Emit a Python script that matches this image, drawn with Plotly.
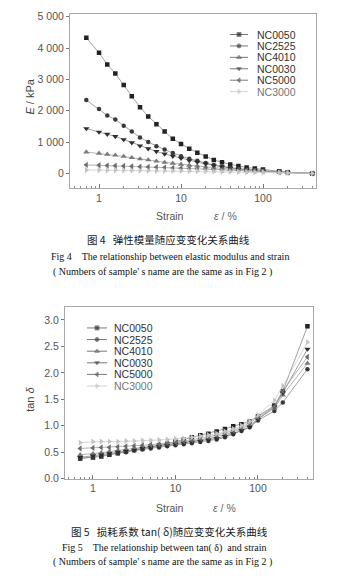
import plotly.graph_objects as go

# ---- data ----------------------------------------------------------------
series_names = ["NC0050", "NC2525", "NC4010", "NC0030", "NC5000", "NC3000"]

strain = [0.7, 1.0, 1.26, 1.58, 2.0, 2.51, 3.16, 3.98, 5.01, 6.31, 7.94, 10.0,
          12.6, 15.8, 20.0, 25.1, 31.6, 39.8, 50.1, 63.1, 79.4, 100.0, 158.0,
          200.0, 398.0]

# elastic modulus E / kPa
E_NC0050 = [4330, 3850, 3480, 3190, 2820, 2460, 2115, 1820, 1570, 1340, 1105, 937,
            790, 663, 540, 430, 355, 285, 235, 190, 155, 125, 65, 35, 0]
E_NC2525 = [2340, 2060, 1850, 1720, 1520, 1340, 1150, 1000, 870, 760, 650, 550,
            470, 400, 330, 270, 220, 180, 150, 120, 100, 80, 50, 30, 0]
E_NC4010 = [680, 640, 610, 580, 540, 500, 460, 430, 390, 350, 320, 290,
            260, 230, 200, 180, 160, 140, 120, 100, 85, 70, 45, 25, 0]
E_NC0030 = [1430, 1320, 1250, 1180, 1080, 980, 880, 790, 700, 620, 550, 480,
            410, 360, 300, 250, 210, 170, 140, 115, 95, 75, 45, 25, 0]
E_NC5000 = [270, 260, 250, 245, 235, 225, 215, 205, 195, 185, 175, 165,
            155, 145, 135, 125, 115, 105, 95, 85, 75, 65, 40, 25, 0]
E_NC3000 = [110, 105, 100, 100, 95, 95, 90, 90, 85, 85, 80, 80,
            75, 75, 70, 65, 60, 55, 50, 45, 40, 35, 25, 15, 0]

# loss factor tan(delta)
T_NC0050 = [0.38, 0.40, 0.42, 0.45, 0.48, 0.51, 0.54, 0.57, 0.60, 0.63, 0.66, 0.70,
            0.74, 0.78, 0.82, 0.85, 0.89, 0.94, 0.99, 1.03, 1.08, 1.18, 1.38, 1.65, 2.88]
T_NC2525 = [0.38, 0.41, 0.43, 0.45, 0.48, 0.50, 0.53, 0.55, 0.57, 0.59, 0.61, 0.63,
            0.65, 0.67, 0.69, 0.71, 0.74, 0.78, 0.84, 0.90, 0.97, 1.10, 1.28, 1.44, 2.07]
T_NC4010 = [0.45, 0.47, 0.49, 0.51, 0.53, 0.55, 0.57, 0.59, 0.61, 0.63, 0.65, 0.67,
            0.69, 0.71, 0.73, 0.76, 0.79, 0.83, 0.88, 0.94, 1.01, 1.13, 1.33, 1.58, 2.18]
T_NC0030 = [0.40, 0.43, 0.45, 0.47, 0.50, 0.52, 0.54, 0.57, 0.59, 0.61, 0.63, 0.65,
            0.67, 0.69, 0.71, 0.73, 0.76, 0.80, 0.85, 0.91, 0.98, 1.12, 1.36, 1.62, 2.45]
T_NC5000 = [0.57, 0.58, 0.59, 0.59, 0.60, 0.61, 0.62, 0.63, 0.64, 0.65, 0.67, 0.69,
            0.71, 0.73, 0.76, 0.79, 0.82, 0.86, 0.91, 0.97, 1.05, 1.16, 1.36, 1.66, 2.30]
T_NC3000 = [0.68, 0.70, 0.70, 0.70, 0.70, 0.71, 0.71, 0.72, 0.72, 0.73, 0.74, 0.75,
            0.76, 0.78, 0.80, 0.82, 0.85, 0.89, 0.94, 1.00, 1.08, 1.20, 1.48, 1.75, 2.58]

E_series = [E_NC0050, E_NC2525, E_NC4010, E_NC0030, E_NC5000, E_NC3000]
T_series = [T_NC0050, T_NC2525, T_NC4010, T_NC0030, T_NC5000, T_NC3000]

x_tickvals = [1, 10, 100]
x_ticktext = ["1", "10", "100"]
E_tickvals = [0, 1000, 2000, 3000, 4000, 5000]
E_ticktext = ["0", "1 000", "2 000", "3 000", "4 000", "5 000"]
T_tickvals = [0.0, 0.5, 1.0, 1.5, 2.0, 2.5, 3.0]
T_ticktext = ["0.0", "0.5", "1.0", "1.5", "2.0", "2.5", "3.0"]

# ---- styling -------------------------------------------------------------
W, H = 337, 587
symbols = ["square", "circle", "triangle-up", "triangle-down", "triangle-left", "triangle-right"]
mcolors = ["#222222", "#3a3a3a", "#7a7a7a", "#2e2e2e", "#6a6a6a", "#c4c4c4"]
lcolors = ["#8a8a8a", "#8a8a8a", "#a0a0a0", "#8a8a8a", "#a0a0a0", "#cccccc"]
msizes = [4.5, 4.5, 5.5, 5.5, 5.5, 5.5]

# plot areas in pixels (left, right, top, bottom)
P1 = (70, 316, 11, 188)
P2 = (65, 313, 309, 483)


def xdom(p):
    return [p[0] / W, p[1] / W]


def ydom(p):
    return [1 - p[3] / H, 1 - p[2] / H]


def px(x):
    return x / W


def py(y):
    return 1 - y / H


fig = go.Figure()

for i, name in enumerate(series_names):
    fig.add_trace(go.Scatter(
        x=strain, y=E_series[i], mode="lines+markers", name=name,
        xaxis="x", yaxis="y", showlegend=False,
        line=dict(color=lcolors[i], width=0.8),
        marker=dict(symbol=symbols[i], size=msizes[i], color=mcolors[i]),
    ))
    fig.add_trace(go.Scatter(
        x=strain, y=T_series[i], mode="lines+markers", name=name,
        xaxis="x2", yaxis="y2", showlegend=False,
        line=dict(color=lcolors[i], width=0.8),
        marker=dict(symbol=symbols[i], size=msizes[i], color=mcolors[i]),
    ))

# hand-built compact legends (symbol x-span, text x, first row y, row step) in pixels
legend_specs = [
    ("x3", "y3", (230, 248), 255, 32.0, 11.6),
    ("x4", "y4", (87, 107), 112, 330.0, 11.8),
]
annotations = []
for xr, yr, (sx0, sx1), tx, y0, dy in legend_specs:
    for i, name in enumerate(series_names):
        yy = y0 + dy * i
        fig.add_trace(go.Scatter(
            x=[sx0, (sx0 + sx1) / 2, sx1], y=[yy, yy, yy], mode="lines+markers",
            xaxis=xr, yaxis=yr, showlegend=False, hoverinfo="skip",
            line=dict(color="#555555" if i < 5 else "#c8c8c8", width=0.8),
            marker=dict(symbol=symbols[i], size=[0, 4, 0], color=mcolors[i]),
        ))
        annotations.append(dict(
            x=tx, y=yy, xref=xr, yref=yr, text=name, showarrow=False,
            xanchor="left", yanchor="middle",
            font=dict(family="Liberation Sans, Arial", size=10.5,
                      color="#333333" if i < 5 else "#777777"),
        ))

axis_common = dict(showline=True, mirror=True, linecolor="#a8a8a8", linewidth=1,
                   showgrid=False, zeroline=False,
                   tickfont=dict(family="Liberation Sans, Arial", size=10.5, color="#555555"))

minor_vals = [m * 10 ** e for e in (-1, 0, 1, 2) for m in range(2, 10)]

xlog = dict(type="log", tickmode="array", tickvals=x_tickvals, ticktext=x_ticktext,
            ticks="inside", ticklen=4, tickcolor="#777777",
            minor=dict(tickvals=minor_vals, ticks="inside", ticklen=2, tickcolor="#888888"))

fig.update_layout(
    width=W, height=H, margin=dict(l=0, r=0, t=0, b=0),
    paper_bgcolor="white", plot_bgcolor="rgba(0,0,0,0)",
    xaxis=dict(domain=xdom(P1), range=[-0.354, 2.646], anchor="y", **xlog, **axis_common),
    yaxis=dict(domain=ydom(P1), range=[-470, 5095], anchor="x", tickmode="array",
               tickvals=E_tickvals, ticktext=E_ticktext, ticks="outside", ticklen=3,
               tickcolor="#777777", **axis_common),
    xaxis2=dict(domain=xdom(P2), range=[-0.339, 2.667], anchor="y2", **xlog, **axis_common),
    yaxis2=dict(domain=ydom(P2), range=[0, 3.24], anchor="x2", tickmode="array",
                tickvals=T_tickvals, ticktext=T_ticktext, ticks="outside", ticklen=3,
                tickcolor="#777777", **axis_common),
    xaxis3=dict(domain=xdom(P1), range=[P1[0], P1[1]], anchor="y3", visible=False),
    yaxis3=dict(domain=ydom(P1), range=[P1[3], P1[2]], anchor="x3", visible=False),
    xaxis4=dict(domain=xdom(P2), range=[P2[0], P2[1]], anchor="y4", visible=False),
    yaxis4=dict(domain=ydom(P2), range=[P2[3], P2[2]], anchor="x4", visible=False),
    showlegend=False,
)

sans = "Liberation Sans, Arial"
serif = "Liberation Serif, Times New Roman"
cjk = "Noto Sans CJK SC"


def label(x, y, text, size, family, color, angle=0, anchor="center"):
    annotations.append(dict(x=px(x), y=py(y), xref="paper", yref="paper", text=text,
                            showarrow=False, xanchor=anchor, yanchor="middle",
                            textangle=angle, font=dict(family=family, size=size, color=color)))


# axis titles
label(30, 95, "<i>E</i> / kPa", 11, sans, "#444444", angle=-90)
label(170, 216, "Strain", 10.5, sans, "#555555")
label(226, 216, "<i>ε</i> / %", 10.5, sans, "#666666")
label(30, 403, "tan <i>δ</i>", 11, sans, "#444444", angle=-90)
label(170, 513, "Strain", 10.5, sans, "#555555")
label(224, 513, "<i>ε</i> / %", 10.5, sans, "#666666")

# figure captions
label(168, 240, "图 4   弹性模量随应变变化关系曲线", 10.5, cjk, "#1a1a1a")
label(170, 257, "Fig 4    The relationship between elastic modulus and strain", 10, serif, "#111111")
label(162, 273, "( Numbers of sample' s name are the same as in Fig 2 )", 10, serif, "#111111")
label(169, 537, "图 5   损耗系数 tan( δ)随应变变化关系曲线", 10.5, cjk, "#1a1a1a")
label(164, 553, "Fig 5    The relationship between tan( δ)  and strain", 10, serif, "#111111")
label(162, 568, "( Numbers of sample' s name are the same as in Fig 2 )", 10, serif, "#111111")

fig.update_layout(annotations=annotations)
fig.write_html("out.html")
